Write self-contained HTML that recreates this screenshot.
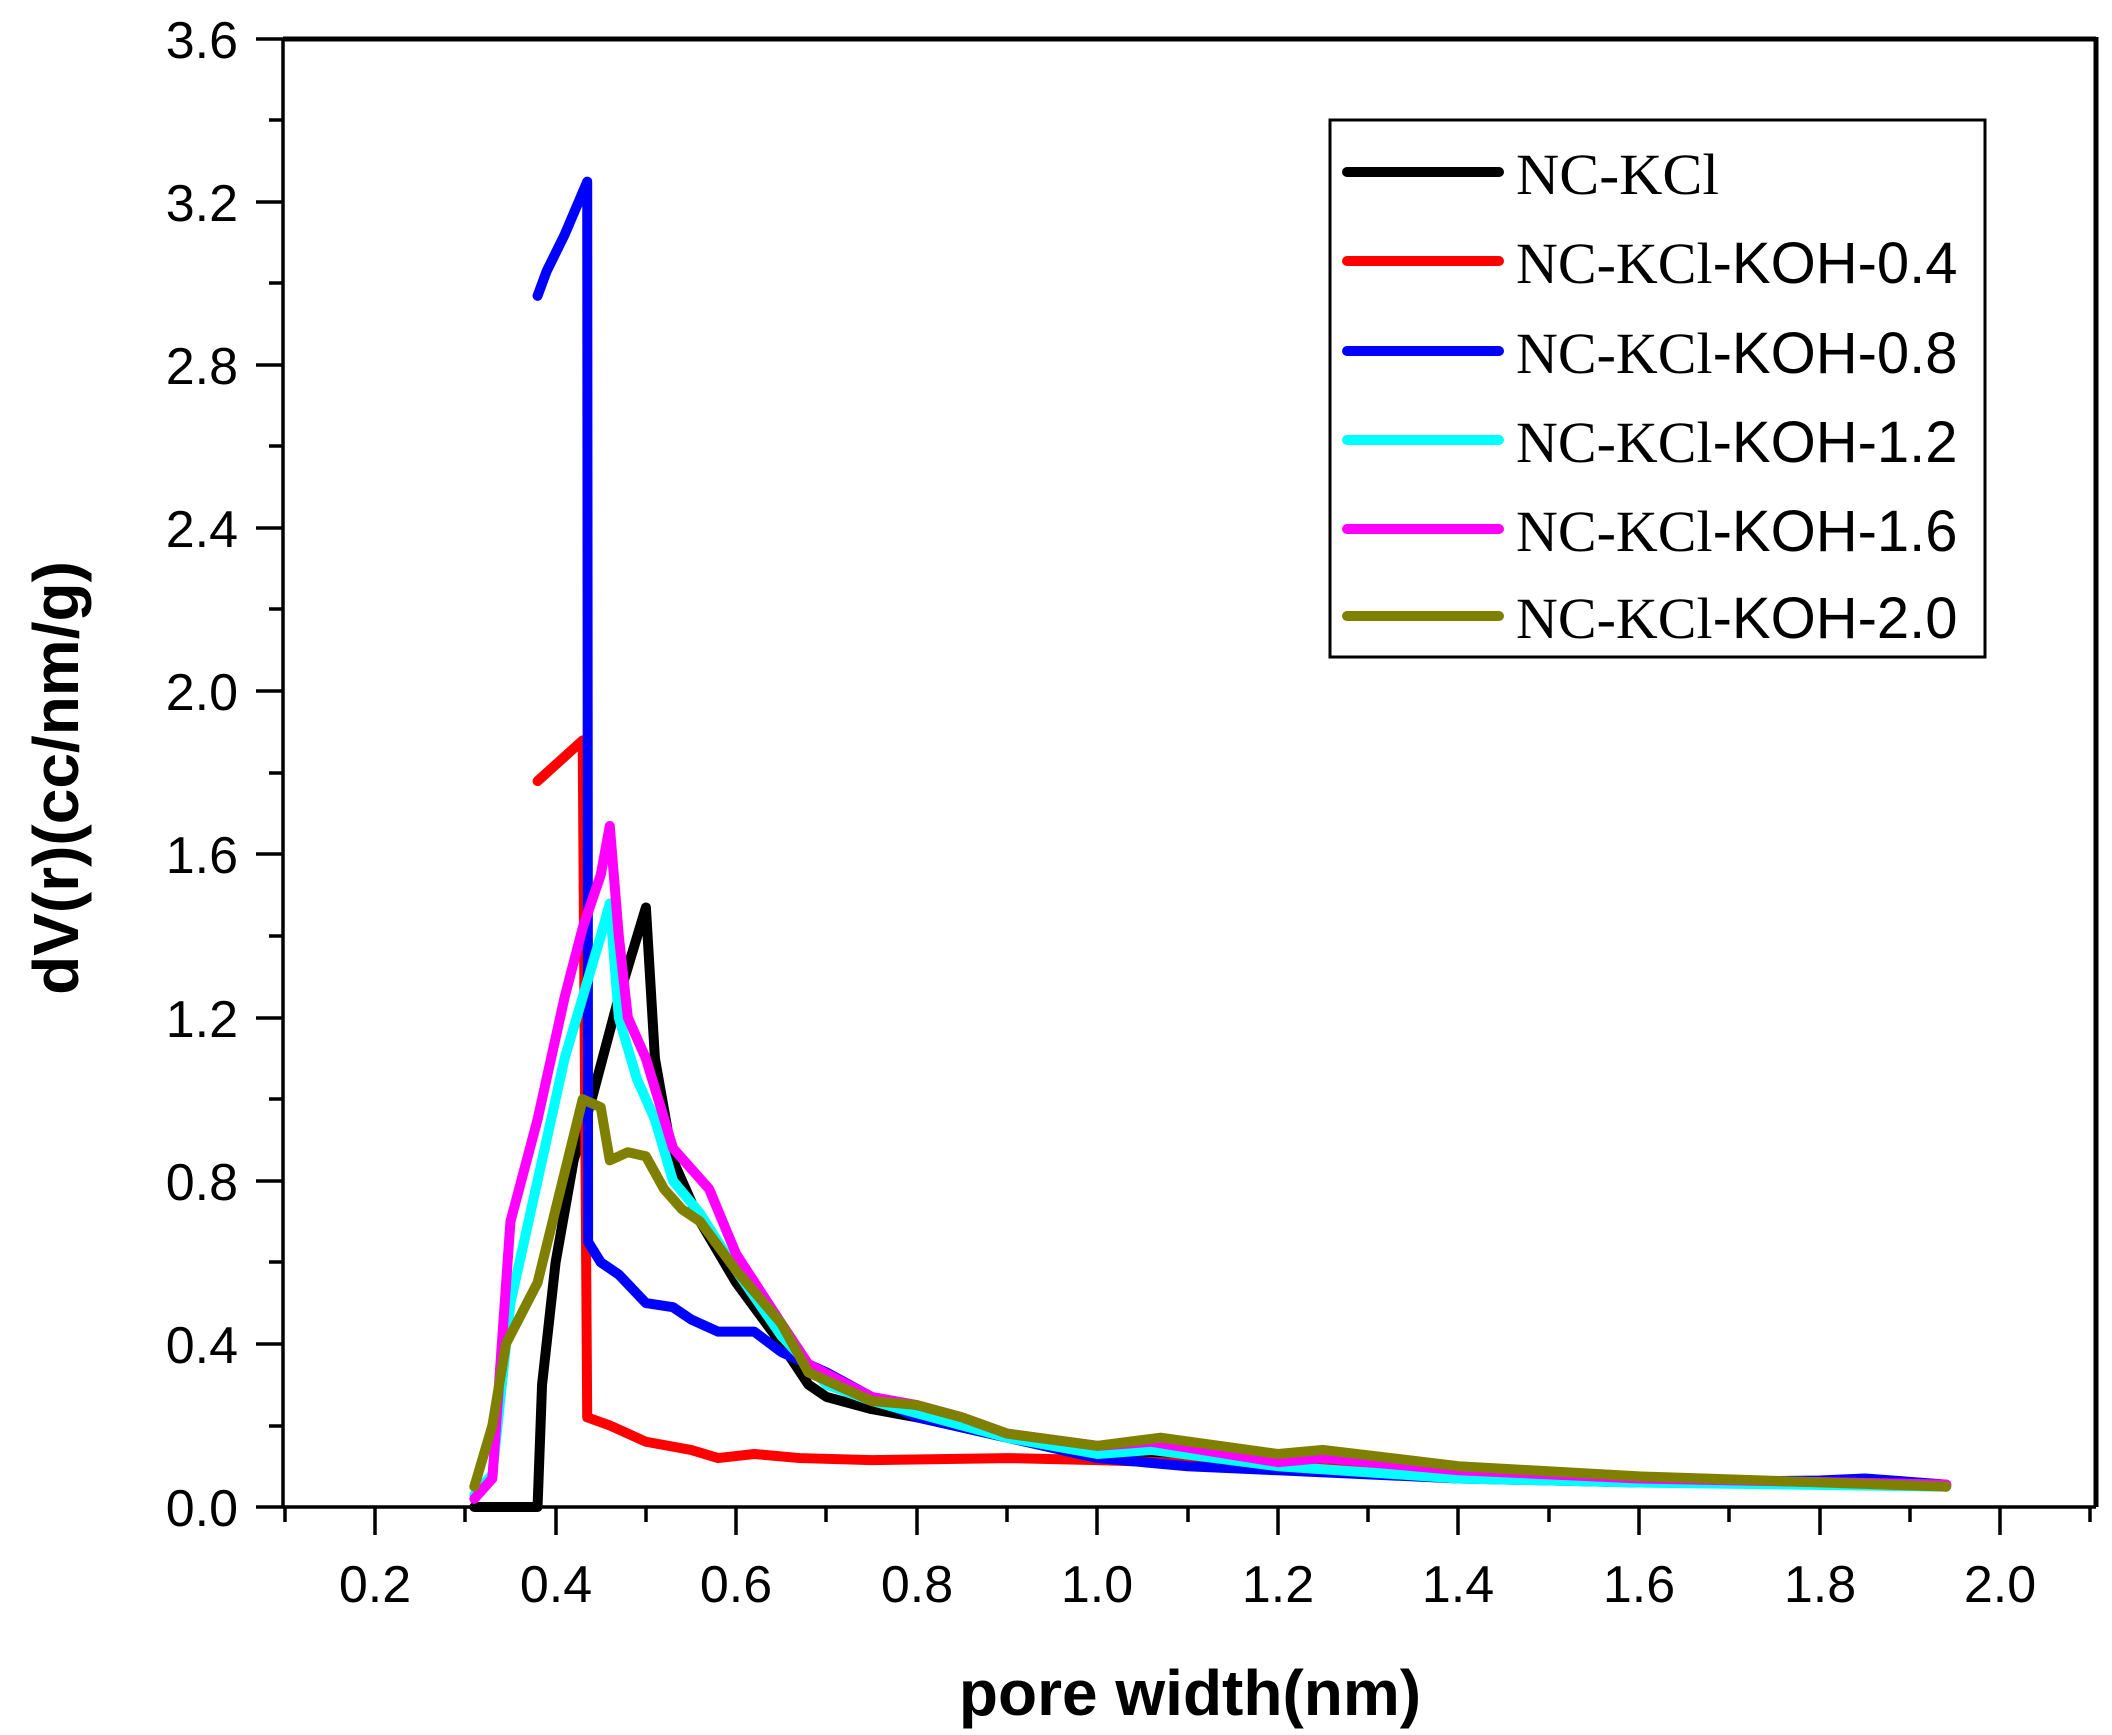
<!DOCTYPE html>
<html><head><meta charset="utf-8"><style>
html,body{margin:0;padding:0;background:#fff;}
svg{display:block;}
</style></head><body>
<svg width="2112" height="1735" viewBox="0 0 2112 1735" xmlns="http://www.w3.org/2000/svg">
<rect width="2112" height="1735" fill="#fff"/>
<line x1="283" y1="39" x2="2096" y2="39" stroke="#000" stroke-width="5"/>
<line x1="2096" y1="37" x2="2096" y2="1507" stroke="#000" stroke-width="5"/>
<line x1="283" y1="39" x2="283" y2="1507" stroke="#000" stroke-width="3.5"/>
<line x1="283" y1="1507" x2="2096" y2="1507" stroke="#000" stroke-width="3.5"/>
<g stroke="#000" stroke-width="3.5">
<line x1="256" y1="39" x2="283" y2="39"/><line x1="256" y1="202" x2="283" y2="202"/><line x1="256" y1="365" x2="283" y2="365"/><line x1="256" y1="528" x2="283" y2="528"/><line x1="256" y1="691" x2="283" y2="691"/><line x1="256" y1="854" x2="283" y2="854"/><line x1="256" y1="1018" x2="283" y2="1018"/><line x1="256" y1="1181" x2="283" y2="1181"/><line x1="256" y1="1344" x2="283" y2="1344"/><line x1="256" y1="1507" x2="283" y2="1507"/>
<line x1="269" y1="120" x2="283" y2="120"/><line x1="269" y1="283" x2="283" y2="283"/><line x1="269" y1="446" x2="283" y2="446"/><line x1="269" y1="609" x2="283" y2="609"/><line x1="269" y1="773" x2="283" y2="773"/><line x1="269" y1="936" x2="283" y2="936"/><line x1="269" y1="1099" x2="283" y2="1099"/><line x1="269" y1="1262" x2="283" y2="1262"/><line x1="269" y1="1426" x2="283" y2="1426"/>
<line x1="375" y1="1507" x2="375" y2="1535"/><line x1="556" y1="1507" x2="556" y2="1535"/><line x1="736" y1="1507" x2="736" y2="1535"/><line x1="917" y1="1507" x2="917" y2="1535"/><line x1="1097" y1="1507" x2="1097" y2="1535"/><line x1="1278" y1="1507" x2="1278" y2="1535"/><line x1="1458" y1="1507" x2="1458" y2="1535"/><line x1="1639" y1="1507" x2="1639" y2="1535"/><line x1="1820" y1="1507" x2="1820" y2="1535"/><line x1="2000" y1="1507" x2="2000" y2="1535"/>
<line x1="285" y1="1507" x2="285" y2="1522"/><line x1="465" y1="1507" x2="465" y2="1522"/><line x1="646" y1="1507" x2="646" y2="1522"/><line x1="826" y1="1507" x2="826" y2="1522"/><line x1="1007" y1="1507" x2="1007" y2="1522"/><line x1="1188" y1="1507" x2="1188" y2="1522"/><line x1="1368" y1="1507" x2="1368" y2="1522"/><line x1="1549" y1="1507" x2="1549" y2="1522"/><line x1="1729" y1="1507" x2="1729" y2="1522"/><line x1="1910" y1="1507" x2="1910" y2="1522"/><line x1="2090" y1="1507" x2="2090" y2="1522"/>
</g>
<g font-family="Liberation Sans, Arial, sans-serif" font-size="52" fill="#000" text-anchor="end">
<text x="238" y="58">3.6</text><text x="238" y="221">3.2</text><text x="238" y="384">2.8</text><text x="238" y="547">2.4</text><text x="238" y="710">2.0</text><text x="238" y="873">1.6</text><text x="238" y="1037">1.2</text><text x="238" y="1200">0.8</text><text x="238" y="1363">0.4</text><text x="238" y="1526">0.0</text>
</g>
<g font-family="Liberation Sans, Arial, sans-serif" font-size="52" fill="#000" text-anchor="middle">
<text x="375" y="1602">0.2</text><text x="556" y="1602">0.4</text><text x="736" y="1602">0.6</text><text x="917" y="1602">0.8</text><text x="1097" y="1602">1.0</text><text x="1278" y="1602">1.2</text><text x="1458" y="1602">1.4</text><text x="1639" y="1602">1.6</text><text x="1820" y="1602">1.8</text><text x="2000" y="1602">2.0</text>
</g>
<text x="1190" y="1715" font-family="Liberation Sans, Arial, sans-serif" font-weight="bold" font-size="64" text-anchor="middle">pore width(nm)</text>
<text transform="translate(78,778) rotate(-90)" font-family="Liberation Sans, Arial, sans-serif" font-weight="bold" font-size="64" text-anchor="middle">dV(r)(cc/nm/g)</text>
<g transform="matrix(903 0 0 -407.8 194.4 1507)" fill="none" stroke-width="10" stroke-linejoin="round" stroke-linecap="round">
<polyline vector-effect="non-scaling-stroke" stroke="#000" points="0.31,0 0.38,0 0.385,0.3 0.40,0.6 0.42,0.85 0.44,1.0 0.47,1.25 0.50,1.47 0.51,1.1 0.53,0.85 0.56,0.7 0.6,0.55 0.65,0.4 0.68,0.3 0.7,0.27 0.75,0.24 0.8,0.22 0.9,0.17 1.0,0.13 1.1,0.11 1.2,0.1 1.4,0.08 1.6,0.07 1.8,0.06 1.94,0.05"/>
<polyline vector-effect="non-scaling-stroke" stroke="#ff0000" points="0.38,1.78 0.40,1.82 0.43,1.88 0.435,0.22 0.46,0.20 0.48,0.18 0.5,0.16 0.55,0.14 0.58,0.12 0.62,0.13 0.67,0.12 0.75,0.115 0.9,0.12 1.0,0.115 1.2,0.1 1.4,0.08 1.6,0.07 1.94,0.055"/>
<polyline vector-effect="non-scaling-stroke" stroke="#0000ff" points="0.38,2.97 0.39,3.03 0.41,3.12 0.435,3.25 0.436,0.65 0.45,0.6 0.47,0.57 0.5,0.5 0.53,0.49 0.55,0.46 0.58,0.43 0.62,0.43 0.65,0.38 0.7,0.33 0.75,0.27 0.8,0.22 0.9,0.17 1.0,0.12 1.1,0.1 1.2,0.09 1.4,0.07 1.6,0.06 1.8,0.065 1.85,0.07 1.94,0.055"/>
<polyline vector-effect="non-scaling-stroke" stroke="#00ffff" points="0.31,0.03 0.33,0.08 0.35,0.5 0.38,0.8 0.41,1.1 0.43,1.25 0.45,1.4 0.46,1.48 0.47,1.2 0.49,1.05 0.51,0.95 0.53,0.8 0.56,0.72 0.6,0.58 0.65,0.42 0.7,0.3 0.75,0.26 0.8,0.23 0.9,0.17 1.0,0.13 1.06,0.14 1.2,0.1 1.4,0.07 1.6,0.06 1.94,0.05"/>
<polyline vector-effect="non-scaling-stroke" stroke="#ff00ff" points="0.31,0.02 0.33,0.07 0.35,0.7 0.38,0.95 0.41,1.25 0.43,1.42 0.45,1.55 0.46,1.67 0.47,1.4 0.48,1.2 0.5,1.1 0.53,0.88 0.57,0.78 0.6,0.62 0.65,0.45 0.68,0.35 0.75,0.27 0.8,0.25 0.85,0.22 0.9,0.18 1.0,0.15 1.06,0.16 1.2,0.11 1.25,0.12 1.4,0.09 1.6,0.07 1.94,0.055"/>
<polyline vector-effect="non-scaling-stroke" stroke="#808000" points="0.31,0.05 0.33,0.2 0.345,0.4 0.38,0.55 0.41,0.82 0.43,1.0 0.45,0.98 0.46,0.85 0.48,0.87 0.5,0.86 0.52,0.78 0.54,0.73 0.56,0.7 0.6,0.58 0.65,0.45 0.68,0.33 0.75,0.26 0.8,0.25 0.85,0.22 0.9,0.18 1.0,0.15 1.07,0.17 1.2,0.13 1.25,0.14 1.4,0.1 1.6,0.075 1.94,0.05"/>
</g>
<rect x="1330" y="120" width="655" height="537" fill="#fff" stroke="#000" stroke-width="3"/>
<g stroke-width="10" stroke-linecap="round">
<line x1="1347" y1="172" x2="1499" y2="172" stroke="#000"/>
<line x1="1347" y1="261" x2="1499" y2="261" stroke="#ff0000"/>
<line x1="1347" y1="351" x2="1499" y2="351" stroke="#0000ff"/>
<line x1="1347" y1="440" x2="1499" y2="440" stroke="#00ffff"/>
<line x1="1347" y1="529" x2="1499" y2="529" stroke="#ff00ff"/>
<line x1="1347" y1="616" x2="1499" y2="616" stroke="#808000"/>
</g>
<g font-size="58" fill="#000">
<text x="1516" y="194" font-family="Liberation Serif, serif" textLength="203" lengthAdjust="spacingAndGlyphs">NC-KCl</text>
<text x="1516" y="283"><tspan font-family="Liberation Serif, serif">NC-KCl</tspan><tspan font-family="Liberation Sans, sans-serif">-KOH-0.4</tspan></text>
<text x="1516" y="373"><tspan font-family="Liberation Serif, serif">NC-KCl</tspan><tspan font-family="Liberation Sans, sans-serif">-KOH-0.8</tspan></text>
<text x="1516" y="462"><tspan font-family="Liberation Serif, serif">NC-KCl</tspan><tspan font-family="Liberation Sans, sans-serif">-KOH-1.2</tspan></text>
<text x="1516" y="551"><tspan font-family="Liberation Serif, serif">NC-KCl</tspan><tspan font-family="Liberation Sans, sans-serif">-KOH-1.6</tspan></text>
<text x="1516" y="638"><tspan font-family="Liberation Serif, serif">NC-KCl</tspan><tspan font-family="Liberation Sans, sans-serif">-KOH-2.0</tspan></text>
</g>
</svg>
</body></html>
